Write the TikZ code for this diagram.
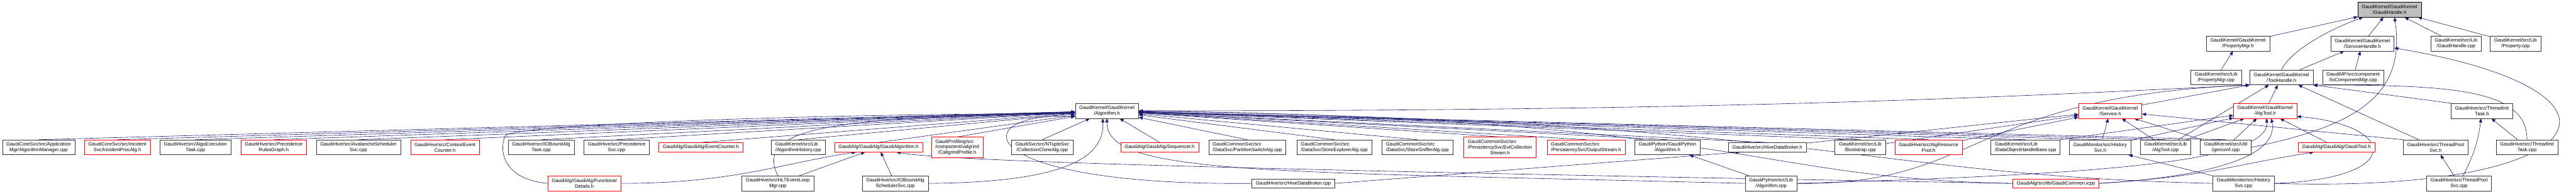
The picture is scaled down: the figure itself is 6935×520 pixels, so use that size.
\documentclass[tikz,border=0pt]{standalone}
\usepackage{fontspec}
\setmainfont{Liberation Sans}
\usetikzlibrary{arrows.meta, backgrounds}
\definecolor{edgeblue}{RGB}{25,25,112}
\definecolor{rootgray}{RGB}{191,191,191}
\newcommand{\gfont}{\fontsize{9.8}{11.25}\selectfont}
% first line set flush left against the wider second line
\newlength{\lfw}
\newcommand{\lfirst}[2]{\settowidth{\lfw}{#2}\makebox[\lfw][l]{#1}\\#2}
\tikzset{
  file/.style={draw=black!80, line width=0.75pt, fill=white, align=center,
               font=\gfont, inner xsep=8pt, inner ysep=1pt, minimum height=30pt},
  trunc/.style={file, draw=red},
  root/.style={file, fill=rootgray, draw=black},
  one/.style={minimum height=18.75pt},
  three/.style={minimum height=41.25pt},
  inc/.style={draw=edgeblue, line width=0.75pt, -{Triangle[length=8pt,width=6.5pt]}}
}

\begin{document}
\begin{tikzpicture}[x=0.75pt, y=0.75pt]
\useasboundingbox (0,0) rectangle (6935,-520);

% top
\node[root] (gh) at (6433,-26) {GaudiKernel/GaudiKernel\\/GaudiHandle.h};
\node[file] (pmgrh) at (6025,-117) {GaudiKernel/GaudiKernel\\/PropertyMgr.h};
\node[file] (shandle) at (6360,-117) {GaudiKernel/GaudiKernel\\/ServiceHandle.h};
\node[file] (ghcpp) at (6612,-117) {GaudiKernel/src/Lib\\/GaudiHandle.cpp};
\node[file] (propcpp) at (6772,-117) {GaudiKernel/src/Lib\\/Property.cpp};
\node[file] (pmgrcpp) at (5966,-208) {GaudiKernel/src/Lib\\/PropertyMgr.cpp};
\node[file] (thandle) at (6142,-208) {GaudiKernel/GaudiKernel\\/ToolHandle.h};
\node[file] (iocomp) at (6335,-208) {GaudiMP/src/component\\/IoComponentMgr.cpp};
\node[file] (algh) at (2980,-298) {GaudiKernel/GaudiKernel\\/Algorithm.h};
\node[trunc] (svch) at (5681,-298) {GaudiKernel/GaudiKernel\\/Service.h};
\node[trunc] (algtoolh) at (6098,-298) {GaudiKernel/GaudiKernel\\/AlgTool.h};
\node[file] (titaskh) at (6682,-298) {GaudiHive/src/ThreadInit\\Task.h};

% row of includers
\node[file] (amgr) at (104,-396) {GaudiCoreSvc/src/Application\\Mgr/AlgorithmManager.cpp};
\node[trunc] (incproc) at (316,-396) {GaudiCoreSvc/src/Incident\\Svc/IncidentProcAlg.h};
\node[file] (algoexec) at (526,-396) {GaudiHive/src/AlgoExecution\\Task.cpp};
\node[trunc] (precrules) at (737,-396) {GaudiHive/src/Precedence\\RulesGraph.h};
\node[file] (avalanche) at (965,-396) {GaudiHive/src/AvalancheScheduler\\Svc.cpp};
\node[trunc] (ctxcount) at (1198,-396) {GaudiHive/src/ContextEvent\\Counter.h};
\node[file] (iotask) at (1457,-396) {GaudiHive/src/IOBoundAlg\\Task.cpp};
\node[file] (precsvc) at (1660,-396) {GaudiHive/src/Precedence\\Svc.cpp};
\node[trunc,one] (evtcount) at (1887,-396) {GaudiAlg/GaudiAlg/EventCounter.h};
\node[file] (alghist) at (2149,-396) {\lfirst{GaudiKernel/src/Lib}{/AlgorithmHistory.cpp}};
\node[trunc,one] (gaudialg) at (2365,-396) {GaudiAlg/GaudiAlg/GaudiAlgorithm.h};
\node[trunc,three] (callgrind) at (2577,-396) {\lfirst{GaudiProfiling/src}{/component/valgrind}\\/CallgrindProfile.h};
\node[file] (collclone) at (2806,-396) {GaudiSvc/src/NTupleSvc\\/CollectionCloneAlg.cpp};
\node[trunc,one] (sequencer) at (3122,-396) {GaudiAlg/GaudiAlg/Sequencer.h};
\node[file] (partswitch) at (3358,-396) {\lfirst{GaudiCommonSvc/src}{/DataSvc/PartitionSwitchAlg.cpp}};
\node[file] (storeexpl) at (3592,-396) {\lfirst{GaudiCommonSvc/src}{/DataSvc/StoreExplorerAlg.cpp}};
\node[file] (storesniff) at (3816,-396) {\lfirst{GaudiCommonSvc/src}{/DataSvc/StoreSnifferAlg.cpp}};
\node[trunc,three] (evtcoll) at (4038,-396) {\lfirst{GaudiCommonSvc/src}{/PersistencySvc/EvtCollection}\\Stream.h};
\node[trunc] (outstream) at (4270,-396) {\lfirst{GaudiCommonSvc/src}{/PersistencySvc/OutputStream.h}};
\node[file] (gpalgh) at (4489,-396) {GaudiPython/GaudiPython\\/Algorithm.h};
\node[file,one] (hbrokerh) at (4758,-396) {GaudiHive/src/HiveDataBroker.h};
\node[file] (bootstrap) at (5008,-396) {GaudiKernel/src/Lib\\/Bootstrap.cpp};
\node[trunc] (algpool) at (5192,-396) {GaudiHive/src/AlgResource\\Pool.h};
\node[file] (dohandle) at (5453,-396) {\lfirst{GaudiKernel/src/Lib}{/DataObjectHandleBase.cpp}};
\node[file] (histsvch) at (5654,-396) {GaudiMonitor/src/History\\Svc.h};
\node[file] (algtoolcpp) at (5830,-396) {GaudiKernel/src/Lib\\/AlgTool.cpp};
\node[file] (genconf) at (5992,-396) {GaudiKernel/src/Util\\/genconf.cpp};
\node[trunc,one] (gtoolh) at (6290,-396) {GaudiAlg/GaudiAlg/GaudiTool.h};
\node[file] (tpsvch) at (6557,-396) {GaudiHive/src/ThreadPool\\Svc.h};
\node[file] (titaskcpp) at (6803,-396) {GaudiHive/src/ThreadInit\\Task.cpp};

% bottom row
\node[trunc] (funcdet) at (1573,-493) {GaudiAlg/GaudiAlg/Functional\\Details.h};
\node[file] (hltloop) at (2094,-493) {GaudiHive/src/HLTEventLoop\\Mgr.cpp};
\node[file] (iosched) at (2410,-493) {GaudiHive/src/IOBoundAlg\\SchedulerSvc.cpp};
\node[file,one] (hbrokercpp) at (3482,-493) {GaudiHive/src/HiveDataBroker.cpp};
\node[file] (gpalgcpp) at (4768,-493) {GaudiPython/src/Lib\\/Algorithm.cpp};
\node[trunc,one] (gcommon) at (5535,-493) {GaudiAlg/src/lib/GaudiCommon.icpp};
\node[file] (histsvccpp) at (6040,-493) {GaudiMonitor/src/History\\Svc.cpp};
\node[file] (tpsvccpp) at (6620,-493) {GaudiHive/src/ThreadPool\\Svc.cpp};

\coordinate (fdbend) at (1360,-365);

\begin{scope}[on background layer]
% GaudiHandle.h and the handles
\foreach \n in {pmgrh,shandle,ghcpp,propcpp}
  \draw[inc] (\n) -- (gh);
\draw[inc] (thandle.north) .. controls +(30,60) and +(-70,-25) .. (gh.-164);
\draw[inc] (genconf.east) .. controls +(300,60) and +(30,-200) .. (gh.-57);
\draw[inc] (pmgrcpp) -- (pmgrh);
\foreach \n in {thandle,iocomp}
  \draw[inc] (\n) -- (shandle);
\draw[inc] (histsvccpp.east) .. controls +(877,-27) and +(700,-117) .. (shandle.-8);

% ToolHandle.h
\draw[inc] (algh.east) .. controls +(1500,0) and +(-800,-40) .. (thandle.south west);
\draw[inc] (svch) -- (thandle.south west);
\foreach \n in {algtoolh,algtoolcpp,tpsvch}
  \draw[inc] (\n) -- (thandle);
\draw[inc] (titaskh.north west) -- (thandle.south east);
\draw[inc] (titaskcpp.north) .. controls +(0,136) and +(374,0) .. (thandle.south east);
\draw[inc] (gpalgcpp.east) .. controls +(492,-7) and +(-759,-32) .. (thandle.south west);

% Algorithm.h
\foreach \n in {amgr,incproc,algoexec,precrules,avalanche,ctxcount,iotask,precsvc,
                evtcount,alghist,gaudialg,callgrind,collclone,sequencer,partswitch,
                storeexpl,storesniff,evtcoll,outstream,gpalgh,hbrokerh,bootstrap,
                algpool,dohandle,histsvch,algtoolcpp,genconf}
  \draw[inc] (\n.north) -- (algh);
\draw[inc] (funcdet.west) .. controls +(-110,10) and +(-20,-50) .. (fdbend)
  .. controls +(20,30) and +(-700,0) .. (algh.-175);
\draw[inc] (hltloop.north) .. controls +(-64,133) and +(-646,-10) .. (algh.-175);
\draw[inc] (iosched.east) .. controls +(350,3) and +(6,-112) .. (algh.-119);
\draw[inc] (hbrokercpp.west) .. controls +(-769,-7) and +(-296,13) .. (algh.-170);
\draw[inc] (gpalgcpp.west) .. controls +(-1297,33) and +(-1,-152) .. (algh.south);
\draw[inc] (gcommon.west) .. controls +(-719,13) and +(1636,-22) .. (algh.east);
\draw[inc] (histsvccpp.west) .. controls +(-956,23) and +(1886,-32) .. (algh.east);

% GaudiAlgorithm.h, GaudiTool.h and the others
\draw[inc] (funcdet.east) .. controls +(300,0) and +(-200,-30) .. (gaudialg.-168);
\foreach \n in {hltloop,iosched}
  \draw[inc] (\n) -- (gaudialg);
\draw[inc] (gcommon.west) .. controls +(-2000,35) and +(140,-25) .. (gaudialg.-15);
\draw[inc] (gcommon.east) .. controls +(300,20) and +(-250,-40) .. (gtoolh.-168);
\draw[inc] (hbrokercpp.east) -- (hbrokerh.-170);
\draw[inc] (gpalgcpp) -- (gpalgh);
\draw[inc] (histsvccpp.north west) -- (histsvch.-15);

% Service.h
\foreach \n in {hbrokerh,bootstrap,algpool,histsvch,algtoolcpp,genconf}
  \draw[inc] (\n) -- (svch);
\draw[inc] (tpsvch.north west) -- (svch);

% AlgTool.h
\draw[inc] (dohandle.north east) -- (algtoolh);
\foreach \n in {histsvch,algtoolcpp,genconf,gtoolh}
  \draw[inc] (\n) -- (algtoolh);
\draw[inc] (histsvccpp.east) .. controls +(357,13) and +(268,-23) .. (algtoolh.-10);
\draw[inc] (gcommon.east) .. controls +(298,18) and +(21,-102) .. (algtoolh.-51);
\draw[inc] (gpalgcpp.east) .. controls +(762,23) and +(8,-122) .. (algtoolh.-79);

% thread pool
\draw[inc] (tpsvccpp) -- (tpsvch);
\draw[inc] (tpsvccpp) to[bend right=10] (titaskh);
\draw[inc] (titaskcpp) -- (titaskh);
\end{scope}
\end{tikzpicture}
\end{document}
